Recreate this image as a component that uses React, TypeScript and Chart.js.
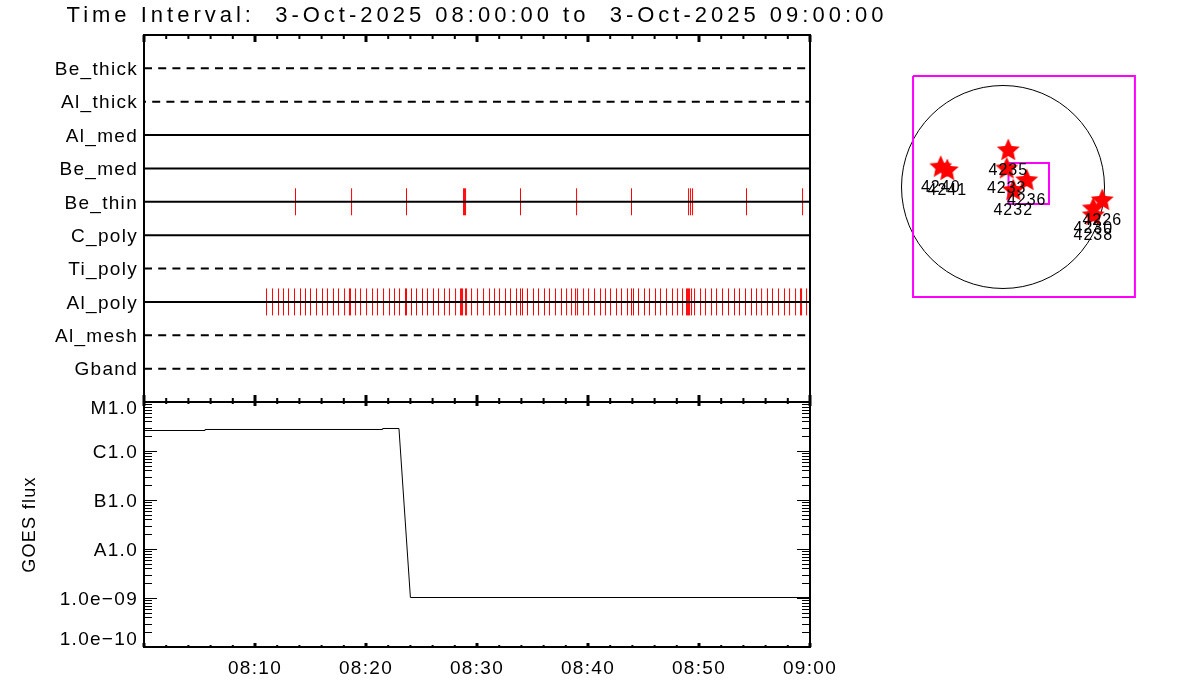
import React, { useEffect, useRef } from "react";
import { Chart, registerables } from "chart.js";

Chart.register(...registerables);

const titleText = "Time Interval:  3-Oct-2025 08:00:00 to  3-Oct-2025 09:00:00";
const FONT = "'Liberation Sans', sans-serif";

const channelNames = ["Be_thick", "Al_thick", "Al_med", "Be_med", "Be_thin", "C_poly", "Ti_poly", "Al_poly", "Al_mesh", "Gband"];
const dashedChannels = ["Be_thick", "Al_thick", "Ti_poly", "Al_mesh", "Gband"];
const channelSpan = [0, 60];

const beThinTimes = [13.65, 18.7, 23.65, 28.79, 28.88, 28.97, 33.92, 38.97, 43.92, 49.06, 49.24, 49.42, 54.28, 59.33];
const alPolyTimes = [
  11.04, 11.58, 12.12, 12.57, 13.02, 13.56, 14.1, 14.55, 15.0, 15.54, 16.08, 16.53, 17.07, 17.52, 18.07, 18.51, 18.6,
  19.06, 19.51, 20.05, 20.59, 21.04, 21.58, 22.12, 22.57, 23.02, 23.56, 23.65, 24.1, 24.55, 25.09, 25.54, 26.08, 26.53,
  27.07, 27.52, 28.07, 28.52, 28.61, 28.7, 28.97, 29.06, 29.51, 30.05, 30.59, 31.13, 31.58, 32.03, 32.57, 33.02, 33.56,
  33.92, 34.1, 34.55, 35.09, 35.54, 36.08, 36.53, 37.07, 37.61, 38.07, 38.52, 38.88, 39.06, 39.6, 40.05, 40.59, 41.13,
  41.58, 42.03, 42.57, 43.02, 43.56, 43.92, 44.1, 44.55, 45.09, 45.54, 46.08, 46.53, 47.07, 47.61, 48.07, 48.52, 48.88,
  48.97, 49.06, 49.15, 49.33, 49.6, 50.14, 50.59, 51.13, 51.58, 52.12, 52.66, 53.2, 53.65, 54.19, 54.73, 55.18, 55.64,
  56.17, 56.62, 57.16, 57.7, 58.16, 58.7, 59.15, 59.24, 59.69,
];

const goesTimes = [0, 5.5, 5.5, 21.5, 21.5, 22.97, 24.0, 60];
const goesFlux = [2.62e-6, 2.62e-6, 2.75e-6, 2.75e-6, 2.88e-6, 2.88e-6, 1.024e-9, 1.024e-9];
const goesTickValues = [1e-10, 1e-9, 1e-8, 1e-7, 1e-6, 1e-5];
const goesTickLabels = ["1.0e\u221210", "1.0e\u221209", "A1.0", "B1.0", "C1.0", "M1.0"];
const goesMinorMantissas = [2, 3, 4, 5, 6, 7, 8, 9];

const xMajorTicks = [0, 10, 20, 30, 40, 50, 60];
const xMinorTicks = [2, 4, 6, 8, 12, 14, 16, 18, 22, 24, 26, 28, 32, 34, 36, 38, 42, 44, 46, 48, 52, 54, 56, 58];
const xTickLabels = ["", "08:10", "08:20", "08:30", "08:40", "08:50", "09:00"];

const arNumbers = ["4235", "4233", "4236", "4232", "4240", "4241", "4226", "4230", "4238"];
const arX = [50, 35, 224, 97, -589, -527, 939, 854, 854];
const arY = [350, 177, 66, -28, 192, 161, -123, -201, -265];
const outerBoxX = [-851, 1248, 1248, -851, -851];
const outerBoxY = [1050, 1050, -1041, -1041, 1050];
const innerBoxX = [52, 435, 435, 52, 52];
const innerBoxY = [227, 227, -161, -161, 227];
const sunCentre = [0, 0];

const pairs = (xs: number[], ys: number[]) => xs.map((x, i) => ({ x, y: ys[i] }));

const spacingPlugin = {
  id: "spacing",
  beforeDraw(chart: any) {
    chart.ctx.letterSpacing = "1.3px";
    const tb = chart.titleBlock;
    if (tb && !tb.__patched) {
      const orig = tb.draw;
      tb.draw = function (...a: any[]) {
        this.left = 0;
        this.right = 954;
        chart.ctx.letterSpacing = "4px";
        orig.apply(this, a);
        chart.ctx.letterSpacing = "1.3px";
      };
      tb.__patched = true;
    }
  },
};

const labelNudgePlugin = {
  id: "labelNudge",
  beforeDraw(chart: any) {
    chart.scales.y.getLabelItems().forEach((it: any) => {
      if (it.label === "M1.0") it.options.translation[1] = 409;
      else if (it.label === "1.0e\u221210") it.options.translation[1] = 640;
      else if (!it.__nudged) {
        it.options.translation[1] += 1.5;
        it.__nudged = true;
      }
    });
  },
};

function frameTicks(topMajor: number, topMinor: number, botMajor: number, botMinor: number) {
  return {
    id: "frameTicks",
    afterDraw(chart: any) {
      const { ctx, chartArea: a, scales } = chart;
      ctx.save();
      ctx.strokeStyle = "#000";
      ctx.lineWidth = 2;
      ctx.strokeRect(a.left, a.top, a.right - a.left, a.bottom - a.top);
      const tick = (px: number, from: number, to: number, w: number) => {
        ctx.lineWidth = w;
        ctx.beginPath();
        ctx.moveTo(px, from);
        ctx.lineTo(px, to);
        ctx.stroke();
      };
      xMajorTicks.forEach((v) => {
        const px = scales.x.getPixelForValue(v);
        tick(px, a.top, a.top + topMajor, 3);
        tick(px, a.bottom, a.bottom - botMajor, 3);
      });
      xMinorTicks.forEach((v) => {
        const px = scales.x.getPixelForValue(v);
        tick(px, a.top, a.top + topMinor, 2);
        tick(px, a.bottom, a.bottom - botMinor, 2);
      });
      ctx.restore();
    },
  };
}

const logTickPlugin = {
  id: "logTicks",
  afterDraw(chart: any) {
    const { ctx, chartArea: a, scales } = chart;
    ctx.save();
    ctx.strokeStyle = "#000";
    ctx.lineWidth = 1;
    scales.y.ticks.forEach((t: any) => {
      const py = Math.round(scales.y.getPixelForValue(t.value)) + 0.5;
      const len = t.major ? 13 : 8;
      ctx.beginPath();
      ctx.moveTo(a.left, py);
      ctx.lineTo(a.left + len, py);
      ctx.moveTo(a.right, py);
      ctx.lineTo(a.right - len, py);
      ctx.stroke();
    });
    ctx.restore();
  },
};

const arLabelPlugin = {
  id: "arLabels",
  afterDatasetsDraw(chart: any) {
    const { ctx, scales } = chart;
    ctx.save();
    ctx.font = `16px ${FONT}`;
    ctx.fillStyle = "#000";
    ctx.textAlign = "center";
    ctx.textBaseline = "middle";
    ctx.letterSpacing = "1px";
    arNumbers.forEach((n, i) => {
      ctx.fillText(n, scales.x.getPixelForValue(arX[i]), scales.y.getPixelForValue(arY[i]) + 20.5);
    });
    ctx.restore();
  },
};

function makeStar() {
  const c = document.createElement("canvas");
  c.width = 24;
  c.height = 24;
  const g = c.getContext("2d")!;
  g.fillStyle = "#ff0000";
  g.beginPath();
  for (let i = 0; i < 10; i++) {
    const r = i % 2 === 0 ? 12 : 5.6;
    const t = -Math.PI / 2 + (i * Math.PI) / 5;
    const px = 12 + r * Math.cos(t);
    const py = 12.5 + r * Math.sin(t);
    if (i === 0) g.moveTo(px, py);
    else g.lineTo(px, py);
  }
  g.closePath();
  g.fill();
  return c;
}

export default function App() {
  const topRef = useRef<HTMLCanvasElement>(null);
  const goesRef = useRef<HTMLCanvasElement>(null);
  const mapRef = useRef<HTMLCanvasElement>(null);

  useEffect(() => {
    const channelLines = channelNames.map((name, i) => {
      const dashed = dashedChannels.includes(name);
      return {
        label: name,
        data: channelSpan.map((x) => ({ x, y: i })),
        showLine: true,
        borderColor: "#000",
        borderWidth: 2,
        borderDash: dashed ? [8, 6.2] : [],
        borderDashOffset: name === "Al_thick" ? 6 : 0,
        pointRadius: 0,
        order: 1,
      };
    });
    const redTicks = (name: string, times: number[]) => ({
      label: name + " events",
      data: times.map((x) => ({ x, y: channelNames.indexOf(name) })),
      showLine: false,
      pointStyle: "line",
      pointRotation: 90,
      pointRadius: 13.5,
      pointBorderColor: "#ff0000",
      pointBorderWidth: 1,
      order: 2,
    });

    const top = new Chart(topRef.current!, {
      type: "scatter",
      data: { datasets: [...channelLines, redTicks("Be_thin", beThinTimes), redTicks("Al_poly", alPolyTimes)] as any },
      options: {
        animation: false,
        responsive: false,
        devicePixelRatio: 1,
        layout: { autoPadding: false, padding: { left: 0, right: 144, top: 0, bottom: 298 } },
        plugins: {
          legend: { display: false },
          tooltip: { enabled: false },
          title: {
            display: true,
            text: titleText,
            color: "#000",
            font: { family: FONT, size: 22, weight: "normal", lineHeight: 1.2 },
            padding: { top: 3, bottom: 5.6 },
          },
        },
        scales: {
          x: { type: "linear", min: 0, max: 60, display: false },
          y: {
            type: "linear",
            min: -1,
            max: 10,
            reverse: true,
            afterFit: (s: any) => { s.width = 144; },
            afterBuildTicks: (s: any) => { s.ticks = channelNames.map((_, i) => ({ value: i })); },
            grid: { display: false, drawTicks: false },
            border: { display: false },
            ticks: {
              autoSkip: false,
              color: "#000",
              padding: 6,
              font: { family: FONT, size: 19 },
              callback: (v: any) => channelNames[v] ?? "",
            },
          },
        },
      } as any,
      plugins: [spacingPlugin, labelNudgePlugin, frameTicks(7, 4, 7, 4)] as any,
    });

    const goes = new Chart(goesRef.current!, {
      type: "scatter",
      data: {
        datasets: [
          {
            label: "GOES flux",
            data: pairs(goesTimes, goesFlux),
            showLine: true,
            borderColor: "#000",
            borderWidth: 1,
            pointRadius: 0,
          },
        ] as any,
      },
      options: {
        animation: false,
        responsive: false,
        devicePixelRatio: 1,
        layout: { autoPadding: false, padding: { left: 0, right: 390, top: 402, bottom: 0 } },
        plugins: { legend: { display: false }, tooltip: { enabled: false } },
        scales: {
          x: {
            type: "linear",
            min: 0,
            max: 60,
            afterFit: (s: any) => { s.height = 53; },
            afterBuildTicks: (s: any) => { s.ticks = xMajorTicks.map((value) => ({ value })); },
            grid: { display: false, drawTicks: false },
            border: { display: false },
            ticks: {
              autoSkip: false,
              maxRotation: 0,
              color: "#000",
              padding: 10,
              font: { family: FONT, size: 19 },
              callback: (v: any) => xTickLabels[xMajorTicks.indexOf(v)] ?? "",
            },
          },
          y: {
            type: "logarithmic",
            min: 1e-10,
            max: 1e-5,
            afterFit: (s: any) => { s.width = 144; },
            afterBuildTicks: (s: any) => {
              const list: any[] = [];
              goesTickValues.forEach((value, i) => {
                list.push({ value, major: true });
                if (i < goesTickValues.length - 1) goesMinorMantissas.forEach((m) => list.push({ value: m * value, major: false }));
              });
              s.ticks = list;
            },
            grid: { display: false, drawTicks: false },
            border: { display: false },
            title: {
              display: true,
              text: "GOES flux",
              color: "#000",
              font: { family: FONT, size: 18, lineHeight: 1.2 },
              padding: { top: 19, bottom: 0 },
            },
            ticks: {
              autoSkip: false,
              color: "#000",
              padding: 6,
              font: { family: FONT, size: 19 },
              callback: (v: any) => {
                const idx = goesTickValues.findIndex((t) => Math.abs(t - v) / t < 1e-6);
                return idx >= 0 ? goesTickLabels[idx] : "";
              },
            },
          },
        },
      } as any,
      plugins: [spacingPlugin, labelNudgePlugin, logTickPlugin, frameTicks(4, 2, 4, 2)] as any,
    });

    const star = makeStar();
    const map = new Chart(mapRef.current!, {
      type: "scatter",
      data: {
        datasets: [
          {
            label: "Active regions",
            data: pairs(arX, arY),
            showLine: false,
            pointStyle: star,
            pointRadius: 12,
            order: 1,
          },
          {
            label: "Inner box",
            data: pairs(innerBoxX, innerBoxY),
            showLine: true,
            borderColor: "#ff00ff",
            borderWidth: 2,
            pointRadius: 0,
            order: 2,
          },
          {
            label: "Outer box",
            data: pairs(outerBoxX, outerBoxY),
            showLine: true,
            borderColor: "#ff00ff",
            borderWidth: 2,
            pointRadius: 0,
            order: 3,
          },
          {
            label: "Solar disc",
            data: [{ x: sunCentre[0], y: sunCentre[1] }],
            showLine: false,
            pointRadius: 101.5,
            pointBackgroundColor: "rgba(0,0,0,0)",
            pointBorderColor: "#000",
            pointBorderWidth: 1,
            order: 4,
          },
        ] as any,
      },
      options: {
        animation: false,
        responsive: false,
        devicePixelRatio: 1,
        layout: { autoPadding: false, padding: { left: 895, right: 55, top: 60, bottom: 390 } },
        plugins: { legend: { display: false }, tooltip: { enabled: false } },
        scales: {
          x: { type: "linear", min: -1021.7, max: 1343.3, display: false },
          y: { type: "linear", min: -1163.6, max: 1201.4, display: false },
        },
      } as any,
      plugins: [arLabelPlugin] as any,
    });

    return () => {
      top.destroy();
      goes.destroy();
      map.destroy();
    };
  }, []);

  const abs: React.CSSProperties = { position: "absolute", left: 0, top: 0 };
  return (
    <div style={{ position: "fixed", left: 0, top: 0, width: 1200, height: 700, background: "#fff" }}>
      <canvas ref={topRef} width={954} height={700} style={abs} />
      <canvas ref={goesRef} width={1200} height={700} style={abs} />
      <canvas ref={mapRef} width={1200} height={700} style={abs} />
    </div>
  );
}
